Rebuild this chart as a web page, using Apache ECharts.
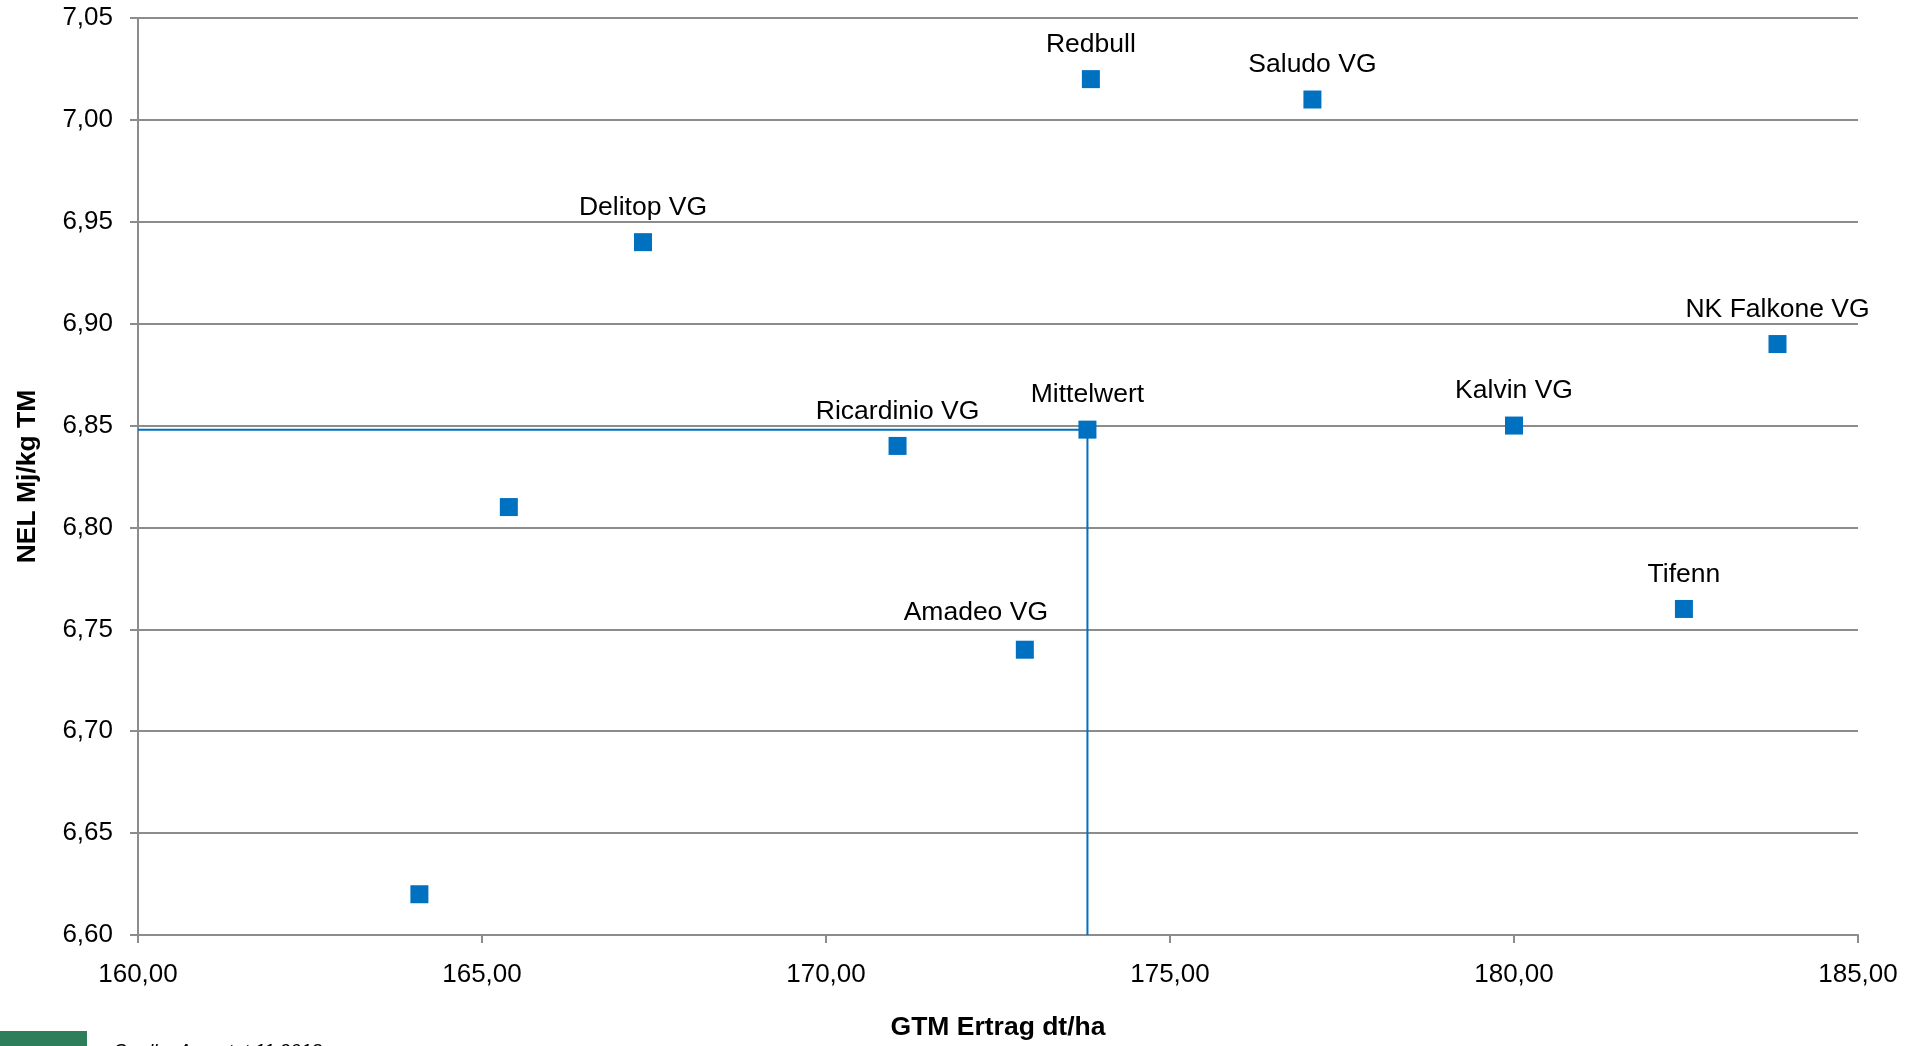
<!DOCTYPE html>
<html>
<head>
<meta charset="utf-8">
<script src="https://cdn.jsdelivr.net/npm/echarts@6/dist/echarts.min.js"></script>
<style>
html,body{margin:0;padding:0;background:#fff;}
#chart{width:1917px;height:1046px;}
</style>
</head>
<body>
<div id="chart"></div>
<script>
// Data
const varieties = ['Redbull', 'Saludo VG', 'Delitop VG', 'NK Falkone VG', 'Kalvin VG', 'Ricardinio VG', '', 'Tifenn', 'Amadeo VG', ''];
const gtmYield = [173.85, 177.07, 167.34, 183.83, 180.00, 171.04, 165.39, 182.47, 172.89, 164.09];
const nelValues = [7.02, 7.01, 6.94, 6.89, 6.85, 6.84, 6.81, 6.76, 6.74, 6.62];
const meanLabel = 'Mittelwert';
const meanX = 173.80;
const meanY = 6.848;
const xAxisRange = [160, 185, 5];
const yAxisRange = [6.60, 7.05, 0.05];

const fmt = v => Number(v).toFixed(2).replace('.', ',');
const FONT = '"Liberation Sans", Arial, sans-serif';
const BLUE = '#0070C0';
const GRAY = '#8c8c8c';

const pointData = varieties.map((n, i) => {
  const item = { name: n, value: [gtmYield[i], nelValues[i]] };
  if (n === 'Amadeo VG') item.label = { offset: [-49, -3] };
  return item;
});

const labelStyle = {
  show: true, position: 'top', distance: 12,
  formatter: '{b}', fontFamily: FONT, fontSize: 26.5, color: '#000'
};

const chart = echarts.init(document.getElementById('chart'));
chart.setOption({
  animation: false,
  backgroundColor: '#fff',
  textStyle: { fontFamily: FONT },
  grid: { left: 138, right: 59, top: 18, bottom: 107, containLabel: false },
  xAxis: {
    type: 'value',
    min: xAxisRange[0], max: xAxisRange[1], interval: xAxisRange[2],
    name: 'GTM Ertrag dt/ha',
    nameLocation: 'middle',
    nameGap: 79,
    nameTextStyle: { fontFamily: FONT, fontSize: 26.5, fontWeight: 'bold', color: '#000' },
    axisLine: { show: true, lineStyle: { color: GRAY, width: 2 } },
    axisTick: { show: true, length: 8, lineStyle: { color: GRAY, width: 2 } },
    axisLabel: { formatter: fmt, fontFamily: FONT, fontSize: 26, color: '#000', margin: 27 },
    splitLine: { show: false }
  },
  yAxis: {
    type: 'value',
    min: yAxisRange[0], max: yAxisRange[1], interval: yAxisRange[2],
    name: 'NEL Mj/kg TM',
    nameLocation: 'middle',
    nameGap: 97,
    nameRotate: 90,
    nameTextStyle: { fontFamily: FONT, fontSize: 26.5, fontWeight: 'bold', color: '#000' },
    axisLine: { show: true, lineStyle: { color: GRAY, width: 2 } },
    axisTick: { show: true, length: 8, lineStyle: { color: GRAY, width: 2 } },
    axisLabel: { formatter: fmt, fontFamily: FONT, fontSize: 26, color: '#000', margin: 25 },
    splitLine: { show: true, lineStyle: { color: GRAY, width: 2 } }
  },
  series: [
    {
      type: 'line',
      data: [[xAxisRange[0], meanY], [meanX, meanY], [meanX, yAxisRange[0]]],
      symbol: 'none',
      lineStyle: { color: BLUE, width: 2 },
      z: 3,
      silent: true
    },
    {
      type: 'scatter',
      data: pointData,
      symbol: 'rect',
      symbolSize: 18,
      itemStyle: { color: BLUE, opacity: 1 },
      label: labelStyle,
      z: 5
    },
    {
      type: 'scatter',
      data: [{ name: meanLabel, value: [meanX, meanY] }],
      symbol: 'rect',
      symbolSize: 18,
      itemStyle: { color: BLUE, opacity: 1 },
      label: labelStyle,
      z: 5
    }
  ],
  graphic: [
    { type: 'rect', left: 0, top: 1031, shape: { width: 87, height: 20 }, style: { fill: '#2e7d5b' } },
    { type: 'text', left: 113, top: 1042, style: { text: 'Quelle: Agrostat 11.2013', font: 'italic 19px "Liberation Sans", Arial', fill: '#000' } }
  ]
});
</script>
</body>
</html>
